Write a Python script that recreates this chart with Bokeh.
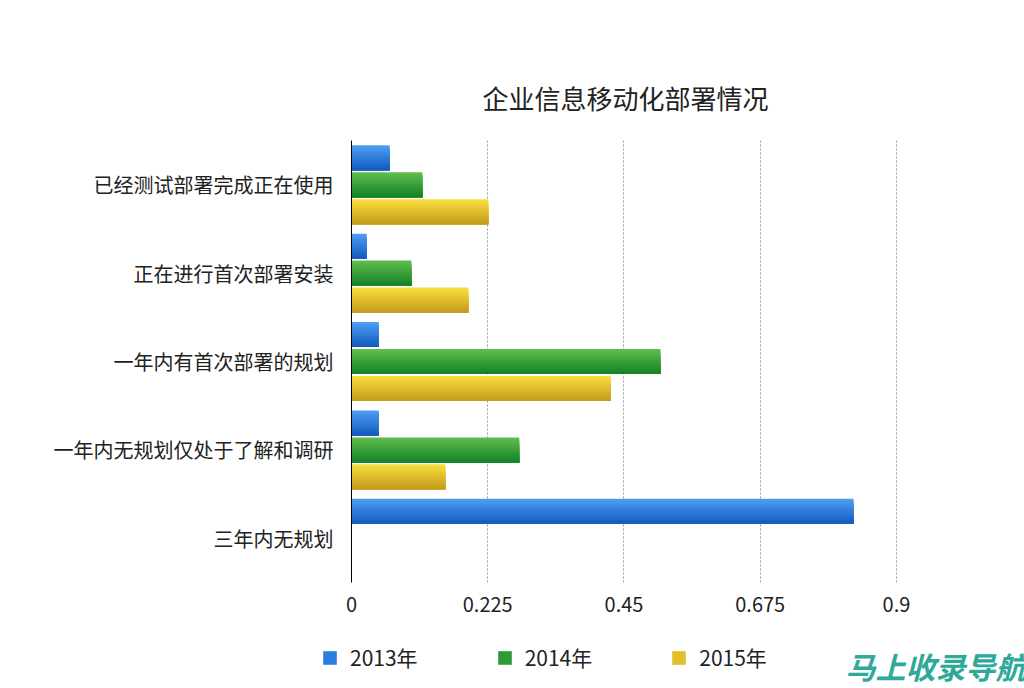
from bokeh.plotting import figure
from bokeh.layouts import column
from bokeh.models import ColumnDataSource, FactorRange, Range1d, Legend, LegendItem, Label, FixedTicker
from bokeh.transform import dodge
from bokeh.embed import file_html
from bokeh.resources import INLINE

# ---- data ----
categories = ["已经测试部署完成正在使用", "正在进行首次部署安装", "一年内有首次部署的规划",
              "一年内无规划仅处于了解和调研", "三年内无规划"]
series_names = ["2013年", "2014年", "2015年"]
v2013 = [0.063, 0.025, 0.045, 0.045, 0.829]
v2014 = [0.117, 0.099, 0.510, 0.277, 0.0]
v2015 = [0.226, 0.193, 0.428, 0.155, 0.0]
x_ticks = [0, 0.225, 0.45, 0.675, 0.9]
title_text = "企业信息移动化部署情况"
watermark = "马上收录导航"

FONT = "Noto Sans CJK SC"

# gradient colours (top -> bottom)
grads = [((0x4d, 0x9c, 0xf2), (0x14, 0x5c, 0xbf)),
         ((0x60, 0xbb, 0x4c), (0x14, 0x84, 0x28)),
         ((0xf6, 0xde, 0x3c), (0xc6, 0x9c, 0x1e))]
legend_colors = ["#2a7ee0", "#2c9a36", "#e2c02a"]

src = ColumnDataSource(dict(cat=categories, s0=v2013, s1=v2014, s2=v2015))

p = figure(frame_width=548, frame_height=442, output_backend="svg", toolbar_location=None,
           y_range=FactorRange(factors=categories[::-1]),
           x_range=Range1d(0, 0.905),
           min_border_left=351, min_border_right=125, min_border_top=140, min_border_bottom=54)
p.frame_align = False

p.title.text = title_text
p.title.align = "center"
p.title.offset = -2
p.title.text_font = FONT
p.title.text_font_size = "26px"
p.title.text_font_style = "normal"
p.title.text_color = "#222222"
p.title.standoff = 49

p.outline_line_color = None
p.background_fill_color = "white"
p.border_fill_color = "white"

p.ygrid.grid_line_color = None
p.xgrid.grid_line_color = "#999999"
p.xgrid.grid_line_dash = "2 2"
p.xgrid.grid_line_width = 1
p.xgrid.ticker = FixedTicker(ticks=x_ticks)

p.xaxis.ticker = FixedTicker(ticks=x_ticks)
p.xaxis.major_label_overrides = {0: "0", 0.225: "0.225", 0.45: "0.45", 0.675: "0.675", 0.9: "0.9"}
p.xaxis.axis_line_color = None
p.xaxis.major_tick_line_color = None
p.xaxis.minor_tick_line_color = None
p.xaxis.major_label_text_font = FONT
p.xaxis.major_label_text_font_size = "20px"
p.xaxis.major_label_text_color = "#222222"
p.xaxis.major_label_standoff = 8

p.yaxis.axis_line_color = "black"
p.yaxis.axis_line_width = 1
p.yaxis.major_tick_line_color = None
p.yaxis.minor_tick_line_color = None
p.yaxis.major_label_text_font = FONT
p.yaxis.major_label_text_font_size = "20px"
p.yaxis.major_label_text_color = "#222222"
p.yaxis.major_label_standoff = 12

bar_h = 0.283
gap = 0.305
offsets = [gap, 0.0, -gap]
n = 14
for si in range(3):
    c0, c1 = grads[si]
    bottom = offsets[si] - bar_h / 2
    for k in range(n):
        t = k / (n - 1)
        col = "#%02x%02x%02x" % tuple(int(round(c0[j] + (c1[j] - c0[j]) * t)) for j in range(3))
        top = offsets[si] + bar_h / 2 - k * bar_h / n
        h = top - bottom
        p.hbar(y=dodge("cat", bottom + h / 2, range=p.y_range), right="s%d" % si, left=0,
               height=h, source=src, fill_color=col, line_color=None)

# ---- legend strip below the chart ----
p2 = figure(width=1024, height=52, output_backend="svg", toolbar_location=None,
            x_range=Range1d(0, 1), y_range=Range1d(0, 1),
            x_axis_type=None, y_axis_type=None,
            min_border_left=0, min_border_right=0, min_border_top=0, min_border_bottom=0)
p2.frame_align = False
p2.outline_line_color = None
p2.xgrid.visible = False
p2.ygrid.visible = False
p2.border_fill_color = "white"
p2.background_fill_color = "white"

leg_renderers = []
for i in range(3):
    leg_renderers.append(p2.hbar(y=[-100], right=[-100], left=[-101], height=0.5,
                                 fill_color=legend_colors[i], line_color=None))

legend = Legend(items=[LegendItem(label=series_names[i], renderers=[leg_renderers[i]]) for i in range(3)],
                orientation="horizontal", location=(321, 16),
                label_text_font=FONT, label_text_font_size="21px", label_text_color="#222222",
                glyph_width=17, glyph_height=17, label_standoff=12, spacing=78,
                border_line_color=None, background_fill_alpha=0, padding=0, margin=0)
p2.add_layout(legend)

wm = Label(x=845, y=23, x_units="screen", y_units="screen", text_baseline="middle",
           text=watermark, text_font=FONT, text_font_size="30px",
           text_font_style="bold italic", text_color="#2ea99a")
p2.add_layout(wm)

layout = column(p, p2, spacing=0)
open("out.html", "w").write(file_html(layout, INLINE))
